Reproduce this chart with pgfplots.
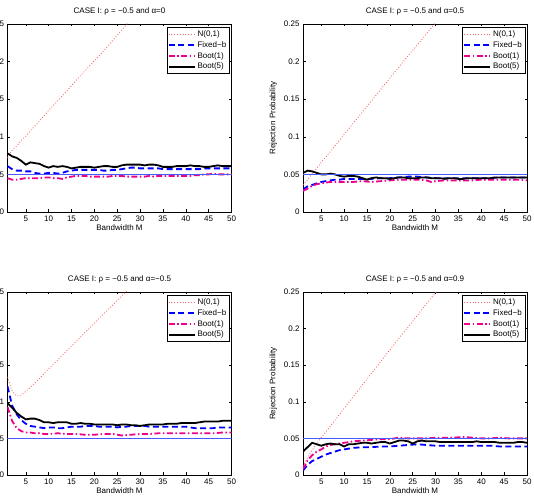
\documentclass[border=0pt]{standalone}
\usepackage{pgfplots}
\pgfplotsset{compat=1.18}
\usepackage{fontspec}
\setmainfont{Liberation Sans}
\definecolor{npink}{RGB}{245,95,95}
\definecolor{refblue}{RGB}{70,90,255}
\pgfplotsset{
  casestyle/.style={
    scale only axis, width=224pt, height=#1,
    xmin=1, xmax=50, ymin=0, ymax=0.25,
    xtick={5,10,15,20,25,30,35,40,45,50},
    xticklabels={5,10,15,20,25,30,35,40,45,50},
    ytick={0,0.05,0.1,0.15,0.2,0.25},
    yticklabels={0,0.05,0.1,0.15,0.2,0.25},
    tick align=inside, xtick pos=both, ytick pos=both,
    major tick length=2.5pt,
    axis line style={line width=0.5pt},
    every tick/.style={black, line width=0.5pt},
    tick label style={font=\fontsize{8}{9.6}\selectfont},
    label style={font=\fontsize{8}{9.6}\selectfont},
    title style={font=\fontsize{8}{9.6}\selectfont, yshift=-1pt},
    xlabel={Bandwidth M},
    xlabel style={yshift=3pt},
    legend style={at={(1,1)}, anchor=north east, xshift=-2pt, yshift=-3.5pt,
      font=\fontsize{8}{9.6}\selectfont, draw=black, line width=0.5pt,
      inner xsep=1pt, inner ysep=1pt, row sep=-0.5pt},
    legend cell align=left,
    legend image code/.code={\draw[##1] (0pt,0pt) -- (26pt,0pt);},
  },
  npl/.style={color=npink, line width=0.8pt, dash pattern=on 0.9pt off 1.9pt},
  fbl/.style={color=blue, line width=1.8pt, dash pattern=on 6pt off 3.5pt},
  b1l/.style={color=magenta, line width=1.8pt, dash pattern=on 6pt off 2.5pt on 1.5pt off 2.5pt},
  b5l/.style={color=black, line width=1.8pt},
  refl/.style={color=refblue, line width=0.6pt},
}
\begin{document}
\begin{tikzpicture}
% ---------- Top left ----------
\begin{axis}[casestyle=188pt, at={(7.5pt,290pt)}, anchor=south west,
  title={CASE I: ρ = −0.5 and α=0}]
\addplot[npl] coordinates {(1,0.072)(2,0.082)(3,0.088)(4,0.095)(5,0.101)(6,0.108)(8,0.121)(10,0.135)(12,0.148)(14,0.161)(16,0.175)(18,0.188)(20,0.201)(22,0.214)(24,0.228)(26,0.242)(28,0.256)(30,0.27)};
\addlegendentry{N(0,1)}
\addplot[fbl] coordinates {(1,0.061)(2,0.057)(3,0.055)(4,0.055)(5,0.054)(6,0.054)(7,0.052)(8,0.051)(9,0.051)(10,0.052)(11,0.052)(12,0.051)(13,0.052)(14,0.054)(15,0.055)(16,0.056)(17,0.056)(18,0.056)(19,0.056)(20,0.056)(21,0.056)(22,0.055)(23,0.055)(24,0.056)(25,0.056)(26,0.057)(27,0.058)(28,0.059)(29,0.059)(30,0.058)(31,0.058)(32,0.058)(33,0.058)(34,0.058)(35,0.057)(36,0.057)(37,0.057)(38,0.057)(39,0.057)(40,0.057)(41,0.057)(42,0.057)(43,0.057)(44,0.058)(45,0.058)(46,0.058)(47,0.058)(48,0.058)(49,0.058)(50,0.058)};
\addlegendentry{Fixed−b}
\addplot[b1l] coordinates {(1,0.045)(2,0.043)(3,0.043)(4,0.044)(5,0.045)(6,0.045)(7,0.045)(8,0.045)(9,0.046)(10,0.046)(11,0.045)(12,0.045)(13,0.044)(14,0.046)(15,0.047)(16,0.048)(17,0.048)(18,0.048)(19,0.047)(20,0.047)(21,0.047)(22,0.047)(23,0.047)(24,0.048)(25,0.048)(26,0.048)(27,0.047)(28,0.047)(29,0.047)(30,0.047)(31,0.047)(32,0.048)(33,0.047)(34,0.048)(35,0.048)(36,0.048)(37,0.048)(38,0.048)(39,0.048)(40,0.048)(41,0.048)(42,0.049)(43,0.049)(44,0.050)(45,0.050)(46,0.051)(47,0.050)(48,0.050)(49,0.050)(50,0.050)};
\addlegendentry{Boot(1)}
\addplot[b5l] coordinates {(1,0.078)(2,0.074)(3,0.072)(4,0.068)(5,0.063)(6,0.066)(7,0.065)(8,0.064)(9,0.061)(10,0.059)(11,0.061)(12,0.060)(13,0.061)(14,0.060)(15,0.058)(16,0.059)(17,0.060)(18,0.060)(19,0.060)(20,0.059)(21,0.060)(22,0.061)(23,0.061)(24,0.060)(25,0.060)(26,0.062)(27,0.063)(28,0.063)(29,0.063)(30,0.063)(31,0.062)(32,0.063)(33,0.063)(34,0.062)(35,0.060)(36,0.060)(37,0.060)(38,0.061)(39,0.061)(40,0.061)(41,0.062)(42,0.061)(43,0.061)(44,0.060)(45,0.060)(46,0.061)(47,0.062)(48,0.061)(49,0.061)(50,0.061)};
\addlegendentry{Boot(5)}
\addplot[refl, forget plot] coordinates {(1,0.05)(50,0.05)};
\end{axis}
% ---------- Top right ----------
\begin{axis}[casestyle=188pt, at={(303pt,290pt)}, anchor=south west,
  title={CASE I: ρ = −0.5 and α=0.5}, ylabel={Rejection Probability}]
\addplot[npl] coordinates {(1,0.036)(2,0.043)(3,0.051)(4,0.058)(5,0.066)(6,0.073)(8,0.088)(10,0.103)(12,0.118)(14,0.133)(16,0.148)(18,0.163)(20,0.178)(22,0.193)(24,0.208)(26,0.222)(28,0.237)(30,0.252)(32,0.266)};
\addlegendentry{N(0,1)}
\addplot[fbl] coordinates {(1,0.030)(2,0.034)(3,0.036)(4,0.038)(5,0.040)(6,0.041)(7,0.042)(8,0.043)(9,0.043)(10,0.044)(12,0.044)(14,0.044)(16,0.044)(18,0.045)(20,0.045)(22,0.046)(24,0.047)(26,0.047)(28,0.046)(30,0.045)(32,0.045)(34,0.045)(36,0.045)(38,0.045)(40,0.045)(42,0.045)(44,0.046)(46,0.046)(48,0.046)(50,0.046)};
\addlegendentry{Fixed−b}
\addplot[b1l] coordinates {(1,0.028)(2,0.031)(3,0.035)(4,0.037)(5,0.038)(6,0.039)(7,0.040)(8,0.040)(10,0.040)(12,0.040)(14,0.041)(16,0.040)(18,0.041)(20,0.042)(22,0.043)(24,0.043)(26,0.043)(28,0.042)(29,0.040)(30,0.041)(32,0.042)(34,0.042)(36,0.042)(38,0.042)(40,0.043)(42,0.043)(44,0.043)(46,0.043)(48,0.043)(50,0.042)};
\addlegendentry{Boot(1)}
\addplot[b5l] coordinates {(1,0.052)(2,0.055)(3,0.054)(4,0.052)(5,0.050)(6,0.050)(7,0.051)(8,0.050)(9,0.048)(10,0.047)(11,0.048)(12,0.048)(13,0.047)(14,0.045)(15,0.043)(16,0.045)(17,0.046)(18,0.045)(19,0.045)(20,0.044)(21,0.045)(22,0.046)(23,0.046)(24,0.045)(25,0.045)(26,0.045)(27,0.046)(28,0.046)(29,0.045)(30,0.045)(31,0.045)(32,0.044)(33,0.045)(34,0.045)(35,0.044)(36,0.044)(37,0.045)(38,0.045)(39,0.045)(40,0.045)(41,0.045)(42,0.045)(43,0.046)(44,0.046)(45,0.046)(46,0.046)(47,0.046)(48,0.046)(49,0.046)(50,0.046)};
\addlegendentry{Boot(5)}
\addplot[refl, forget plot] coordinates {(1,0.05)(50,0.05)};
\end{axis}
% ---------- Bottom left ----------
\begin{axis}[casestyle=183pt, at={(7.5pt,27pt)}, anchor=south west,
  title={CASE I: ρ = −0.5 and α=−0.5}]
\addplot[npl] coordinates {(1,0.134)(2,0.115)(3,0.108)(4,0.109)(5,0.114)(6,0.120)(8,0.132)(10,0.145)(12,0.157)(14,0.170)(16,0.182)(18,0.195)(20,0.207)(22,0.220)(24,0.232)(26,0.245)(28,0.257)(30,0.270)};
\addlegendentry{N(0,1)}
\addplot[fbl] coordinates {(1,0.121)(2,0.095)(3,0.083)(4,0.075)(5,0.070)(6,0.067)(7,0.066)(8,0.065)(9,0.064)(10,0.065)(11,0.065)(12,0.064)(13,0.064)(14,0.065)(15,0.066)(16,0.066)(17,0.066)(18,0.067)(19,0.067)(20,0.067)(21,0.066)(22,0.066)(23,0.066)(24,0.066)(25,0.065)(26,0.066)(27,0.066)(28,0.067)(29,0.067)(30,0.067)(31,0.067)(32,0.066)(33,0.066)(34,0.066)(35,0.066)(36,0.066)(37,0.066)(38,0.066)(39,0.066)(40,0.066)(41,0.065)(42,0.064)(43,0.064)(44,0.064)(45,0.064)(46,0.064)(47,0.065)(48,0.065)(49,0.065)(50,0.065)};
\addlegendentry{Fixed−b}
\addplot[b1l] coordinates {(1,0.093)(2,0.074)(3,0.064)(4,0.060)(5,0.058)(6,0.058)(7,0.057)(8,0.057)(9,0.056)(10,0.056)(12,0.057)(14,0.056)(16,0.056)(18,0.055)(20,0.055)(22,0.056)(24,0.056)(26,0.054)(28,0.055)(30,0.056)(32,0.056)(34,0.057)(36,0.057)(38,0.057)(40,0.057)(42,0.057)(44,0.057)(46,0.057)(48,0.058)(50,0.058)};
\addlegendentry{Boot(1)}
\addplot[b5l] coordinates {(1,0.098)(2,0.092)(3,0.085)(4,0.080)(5,0.076)(6,0.077)(7,0.077)(8,0.075)(9,0.072)(10,0.072)(11,0.071)(12,0.072)(13,0.072)(14,0.072)(15,0.070)(16,0.070)(17,0.071)(18,0.070)(19,0.070)(20,0.069)(21,0.069)(22,0.069)(23,0.069)(24,0.069)(25,0.068)(26,0.069)(27,0.069)(28,0.068)(29,0.068)(30,0.067)(31,0.068)(32,0.069)(33,0.069)(34,0.069)(35,0.069)(36,0.070)(37,0.070)(38,0.070)(39,0.071)(40,0.071)(41,0.071)(42,0.071)(43,0.072)(44,0.073)(45,0.073)(46,0.073)(47,0.073)(48,0.074)(49,0.074)(50,0.074)};
\addlegendentry{Boot(5)}
\addplot[refl, forget plot] coordinates {(1,0.05)(50,0.05)};
\end{axis}
% ---------- Bottom right ----------
\begin{axis}[casestyle=183pt, at={(303pt,27pt)}, anchor=south west,
  title={CASE I: ρ = −0.5 and α=0.9}, ylabel={Rejection Probability}]
\addplot[npl] coordinates {(1,0.012)(2,0.024)(3,0.034)(4,0.043)(5,0.051)(6,0.059)(8,0.075)(10,0.091)(12,0.107)(14,0.123)(16,0.139)(18,0.155)(20,0.171)(22,0.187)(24,0.202)(26,0.218)(28,0.234)(30,0.249)(32,0.265)};
\addlegendentry{N(0,1)}
\addplot[fbl] coordinates {(1,0.006)(2,0.014)(3,0.019)(4,0.022)(5,0.025)(6,0.028)(7,0.030)(8,0.032)(9,0.034)(10,0.035)(12,0.037)(14,0.038)(16,0.038)(18,0.039)(20,0.039)(22,0.040)(24,0.041)(26,0.042)(28,0.041)(30,0.040)(32,0.040)(34,0.040)(36,0.040)(38,0.040)(40,0.040)(42,0.040)(44,0.039)(46,0.039)(48,0.039)(50,0.039)};
\addlegendentry{Fixed−b}
\addplot[b1l] coordinates {(1,0.008)(2,0.020)(3,0.027)(4,0.032)(5,0.035)(6,0.039)(7,0.041)(8,0.042)(9,0.043)(10,0.044)(12,0.046)(14,0.047)(16,0.048)(18,0.049)(20,0.049)(22,0.051)(24,0.050)(26,0.050)(28,0.050)(30,0.051)(32,0.051)(34,0.051)(36,0.052)(38,0.051)(40,0.050)(42,0.050)(44,0.051)(46,0.050)(48,0.050)(50,0.050)};
\addlegendentry{Boot(1)}
\addplot[b5l] coordinates {(1,0.032)(2,0.038)(3,0.044)(4,0.042)(5,0.040)(6,0.042)(7,0.043)(8,0.042)(9,0.042)(10,0.039)(11,0.042)(12,0.042)(13,0.043)(14,0.044)(15,0.044)(16,0.043)(17,0.044)(18,0.045)(19,0.045)(20,0.043)(21,0.045)(22,0.047)(23,0.047)(24,0.046)(25,0.043)(26,0.046)(27,0.047)(28,0.046)(29,0.046)(30,0.046)(31,0.045)(32,0.045)(33,0.045)(34,0.045)(35,0.045)(36,0.045)(37,0.045)(38,0.045)(39,0.046)(40,0.045)(41,0.045)(42,0.045)(43,0.045)(44,0.044)(45,0.044)(46,0.044)(47,0.044)(48,0.045)(49,0.045)(50,0.044)};
\addlegendentry{Boot(5)}
\addplot[refl, forget plot] coordinates {(1,0.05)(50,0.05)};
\end{axis}
\pgfresetboundingbox
\path[use as bounding box] (0pt,0pt) rectangle (534pt,502pt);
\end{tikzpicture}
\end{document}
